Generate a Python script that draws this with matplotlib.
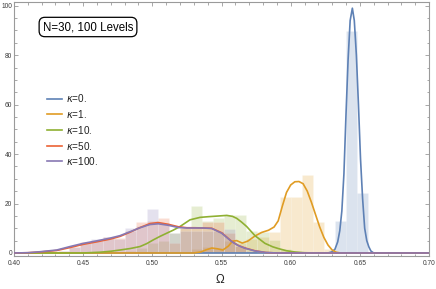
import numpy as np
import matplotlib
matplotlib.use("Agg")
import matplotlib.pyplot as plt
from matplotlib.lines import Line2D
from matplotlib.ticker import MultipleLocator

plt.rcParams['font.family'] = ['Liberation Sans', 'DejaVu Sans']
plt.rcParams['mathtext.fontset'] = 'custom'
plt.rcParams['mathtext.rm'] = 'Liberation Sans'
plt.rcParams['mathtext.it'] = 'DejaVu Sans:italic'

# ---------------- data ----------------
labels = [r"$\mathit{\kappa}$=0.", r"$\mathit{\kappa}$=1.", r"$\mathit{\kappa}$=10.",
          r"$\mathit{\kappa}$=50.", r"$\mathit{\kappa}$=100."]
colors = ["#5E81B5", "#E09C24", "#8FB032", "#EB6235", "#8778B3"]

# shared histogram bin edges (width 0.008)
bin_edges = np.round(np.arange(0.424, 0.6561, 0.008), 3)

hist_k0 = [0, 0, 0, 0, 0, 0, 0, 0, 0, 0, 0, 0, 0, 0, 0, 0, 0, 0, 0, 0, 0, 0, 0, 0, 0, 0, 13, 89.6, 24.2]
hist_k1 = [0, 0, 0, 0, 0, 0, 0, 0, 0, 0, 0, 0, 0, 1.5, 2.5, 2, 5, 4, 5.5, 6.5, 8.6, 22.8, 22.8, 31.6, 12.7, 1.5, 0, 0, 0]
hist_k10 = [0, 0, 0, 0, 0, 0, 0.5, 1, 2, 4, 5, 8, 10, 19, 13, 14, 15.3, 15.3, 9, 8.6, 5.3, 1.5, 0.5, 0, 0, 0, 0, 0, 0]
hist_k50 = [0, 1, 2.5, 4.5, 5, 6.5, 6, 9, 12.7, 13, 14, 4, 10, 10, 12.6, 12.7, 8, 3, 1, 0, 0, 0, 0, 0, 0, 0, 0, 0, 0]
hist_k100 = [0.3, 1, 2.5, 4, 5.5, 6.5, 5.5, 10, 11, 17.8, 12, 8, 9, 9, 9, 9, 9.5, 3, 1, 0, 0, 0, 0, 0, 0, 0, 0, 0, 0]

# smooth density curves
x_k0 = [0.40, 0.627, 0.630, 0.632, 0.634, 0.6355, 0.637, 0.6385, 0.640, 0.6415, 0.643, 0.6446,
        0.646, 0.6475, 0.649, 0.6505, 0.652, 0.6535, 0.655, 0.6565, 0.658, 0.660, 0.70]
y_k0 = [0, 0, 0.5, 1.5, 4.5, 9, 17, 32, 56, 78, 94, 99,
        94, 80, 60, 38, 22, 10, 5, 2.5, 0.8, 0, 0]

x_k1 = [0.40, 0.530, 0.535, 0.539, 0.543, 0.547, 0.551, 0.555, 0.558, 0.561, 0.565, 0.569,
        0.574, 0.579, 0.584, 0.588, 0.591, 0.594, 0.597, 0.600, 0.603, 0.606, 0.609, 0.612,
        0.615, 0.618, 0.621, 0.624, 0.627, 0.630, 0.633, 0.636, 0.70]
y_k1 = [0, 0, 0.4, 1.3, 2.0, 1.7, 1.2, 2.8, 4.8, 5.0, 4.0, 4.8,
        6.8, 8.3, 9.2, 10.5, 13, 19, 24.5, 27.5, 28.8, 28.9, 28, 25,
        20.5, 15.5, 10.5, 6.3, 3.2, 1.2, 0.3, 0, 0]

x_k10 = [0.40, 0.450, 0.462, 0.470, 0.4766, 0.484, 0.4911, 0.496, 0.5007, 0.5055, 0.5104, 0.515,
         0.52, 0.5272, 0.5345, 0.541, 0.5489, 0.5538, 0.558, 0.561, 0.5645, 0.5682, 0.5742,
         0.5814, 0.587, 0.591, 0.597, 0.6031, 0.610, 0.618, 0.70]
y_k10 = [0, 0, 0.3, 0.7, 1.2, 1.8, 2.6, 3.8, 5.3, 6.7, 8, 9.2,
         10.7, 13.4, 14.4, 14.7, 15, 15.2, 14.8, 14, 12.5, 10.7, 7.0,
         3.9, 2.5, 1.8, 0.9, 0.4, 0.1, 0, 0]

x_k50 = [0.40, 0.41, 0.4188, 0.4309, 0.4405, 0.4501, 0.4598, 0.4694, 0.4766, 0.4839, 0.4911,
         0.4983, 0.5043, 0.5115, 0.5188, 0.525, 0.5308, 0.537, 0.5429, 0.5501, 0.5574, 0.562,
         0.567, 0.5742, 0.582, 0.59, 0.70]
y_k50 = [0, 0.1, 0.4, 1.0, 2.2, 3.5, 4.5, 5.6, 6.7, 8.4, 10.3,
         11.9, 12.3, 11.6, 10.6, 10.2, 10.2, 10.1, 10.0, 8.2, 4.7, 3.1,
         2.0, 0.9, 0.2, 0, 0]

x_k100 = x_k50
y_k100 = [0, 0.1, 0.5, 1.2, 2.6, 3.9, 4.9, 6, 7, 8.6, 10.2,
          11.5, 11.8, 11.2, 10.3, 10.1, 10.1, 10.1, 9.9, 8, 4.6, 3,
          1.9, 0.8, 0.2, 0, 0]

hists = [hist_k0, hist_k1, hist_k10, hist_k50, hist_k100]
curves = [(x_k0, y_k0), (x_k1, y_k1), (x_k10, y_k10), (x_k50, y_k50), (x_k100, y_k100)]

# ---------------- figure ----------------
W, H = 436, 289
fig = plt.figure(figsize=(W / 100, H / 100), dpi=100)
ax = fig.add_axes([14 / W, 1 - 255.7 / H, (429 - 14) / W, (255.7 - 2) / H])

widths = np.diff(bin_edges)
for h, c in zip(hists, colors):
    h = np.asarray(h, dtype=float)
    m = h > 0
    ax.bar(bin_edges[:-1][m], h[m], width=widths[m], align='edge',
           color=c, alpha=0.22, edgecolor=(1, 1, 1, 0.6), linewidth=0.4, zorder=1)

for (xs, ys), c in zip(curves, colors):
    ax.plot(xs, ys, color=c, lw=1.2, zorder=3, solid_joinstyle='round')

ax.set_xlim(0.40, 0.70)
ax.set_ylim(-1.1, 101.5)

ax.xaxis.set_minor_locator(MultipleLocator(0.01))
ax.yaxis.set_minor_locator(MultipleLocator(5))
ax.set_xticks([0.40, 0.45, 0.50, 0.55, 0.60, 0.65, 0.70])
ax.set_xticklabels(["0.40", "0.45", "0.50", "0.55", "0.60", "0.65", "0.70"])
ax.set_yticks([0, 20, 40, 60, 80, 100])
ax.set_yticklabels(["0", "20", "40", "60", "80", "100"])

for s in ax.spines.values():
    s.set_color("#9a9a9a")
    s.set_linewidth(0.8)
ax.tick_params(which='both', direction='in', top=True, right=True, color='#9a9a9a',
               labelsize=4.8, labelcolor='#3a3a3a', width=0.6)
ax.tick_params(which='major', length=3.2)
ax.tick_params(which='minor', length=1.8)
ax.tick_params(axis='x', pad=3)
ax.tick_params(axis='y', pad=1.5)

fig.text(220 / W, 1 - 280 / H, "Ω", ha='center', va='center', fontsize=8.5, color='#222222')

# text box
fig.text(88 / W, 1 - 27 / H, "N=30, 100 Levels", ha='center', va='center', fontsize=8.3,
         color='black',
         bbox=dict(boxstyle='round,pad=0.32,rounding_size=0.5', facecolor='white',
                   edgecolor='black', linewidth=0.9))

# legend
rows = [98.5, 114, 130, 145.5, 161]
for lab, c, yy in zip(labels, colors, rows):
    fig.add_artist(Line2D([47 / W, 62 / W], [1 - yy / H, 1 - yy / H], color=c, lw=1.2,
                          transform=fig.transFigure))
    fig.text(66 / W, 1 - yy / H, lab, ha='left', va='center', fontsize=7.2, color='#222222')

fig.savefig("out.png", dpi=100)
